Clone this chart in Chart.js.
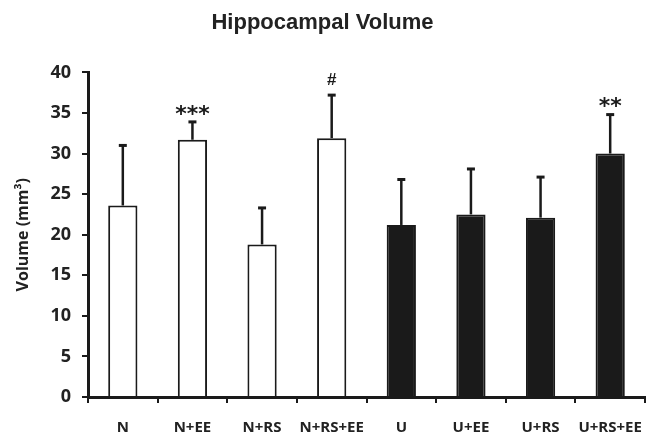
<!DOCTYPE html>
<html>
<head>
<meta charset="utf-8">
<script src="https://cdn.jsdelivr.net/npm/chart.js@4.4.1/dist/chart.umd.min.js"></script>
<style>
  html, body { margin: 0; padding: 0; background: #fff; }
  #wrap { width: 660px; height: 439px; }
</style>
</head>
<body>
<div id="wrap"><canvas id="canvas"></canvas></div>
<script>
// data
const groups = ["N", "N+EE", "N+RS", "N+RS+EE", "U", "U+EE", "U+RS", "U+RS+EE"];
const volume = [23.6, 31.7, 18.8, 31.9, 21.2, 22.5, 22.1, 30.0];
const errUp = [7.4, 2.2, 4.5, 5.3, 5.6, 5.6, 5.0, 4.8];
const marks = ["", "***", "", "#", "", "", "", "**"];
const fills = ["#ffffff", "#ffffff", "#ffffff", "#ffffff", "#1a1a1a", "#1a1a1a", "#1a1a1a", "#1a1a1a"];
const yTicks = [0, 5, 10, 15, 20, 25, 30, 35, 40];

const ink = "#1a1a1a";

// error bars (upper only) and significance marks
const errorBars = {
  id: "errorBars",
  afterDatasetsDraw(chart) {
    const ctx = chart.ctx;
    const meta = chart.getDatasetMeta(0);
    const y = chart.scales.y;
    ctx.save();
    ctx.strokeStyle = ink;
    ctx.fillStyle = ink;
    meta.data.forEach((bar, i) => {
      const top = y.getPixelForValue(volume[i]);
      const hi = y.getPixelForValue(volume[i] + errUp[i]);
      ctx.lineWidth = 2.5;
      ctx.beginPath();
      ctx.moveTo(bar.x, top);
      ctx.lineTo(bar.x, hi);
      ctx.stroke();
      ctx.lineWidth = 3;
      ctx.beginPath();
      ctx.moveTo(bar.x - 4, hi);
      ctx.lineTo(bar.x + 4, hi);
      ctx.stroke();
      if (marks[i]) {
        const star = marks[i] !== "#";
        ctx.font = star ? "bold 22px 'DejaVu Sans'" : "bold 17px 'Liberation Sans'";
        ctx.textAlign = "center";
        ctx.textBaseline = "middle";
        ctx.fillText(marks[i], bar.x, hi - (star ? 7 : 15));
      }
    });
    ctx.restore();
  }
};

new Chart(document.getElementById("canvas"), {
  type: "bar",
  data: {
    labels: groups,
    datasets: [{
      data: volume,
      backgroundColor: fills,
      borderColor: ink,
      borderWidth: 2,
      borderSkipped: "bottom",
      categoryPercentage: 1,
      barPercentage: 0.42
    }]
  },
  options: {
    responsive: true,
    maintainAspectRatio: false,
    animation: false,
    layout: { padding: { left: 0, right: 15, top: 0, bottom: 0 } },
    plugins: {
      legend: { display: false },
      tooltip: { enabled: false },
      title: {
        display: true,
        text: "Hippocampal Volume",
        color: "#222",
        font: { family: "'Liberation Sans'", weight: "bold", size: 22 },
        padding: { top: 10, bottom: 36 }
      }
    },
    scales: {
      x: {
        border: { display: true, color: ink, width: 3 },
        grid: { display: true, offset: true, drawOnChartArea: false, drawTicks: true, tickLength: 6, color: ink, lineWidth: 2 },
        ticks: { color: "#222", padding: 16, autoSkip: false, maxRotation: 0, font: { family: "'Open Sans'", weight: "bold", size: 15 } },
        afterFit(scale) { scale.height = 42; }
      },
      y: {
        min: 0,
        max: 40,
        afterBuildTicks(scale) { scale.ticks = yTicks.map(v => ({ value: v })); },
        border: { display: true, color: ink, width: 3 },
        grid: { display: true, drawOnChartArea: false, drawTicks: true, tickLength: 6, color: ink, lineWidth: 2 },
        ticks: { color: "#222", padding: 11, font: { family: "'Open Sans'", weight: "bold", size: 18 } },
        title: {
          display: true,
          text: "Volume (mm³)",
          color: "#222",
          font: { family: "'Open Sans'", weight: "bold", size: 16 },
          padding: { top: 14, bottom: 0 }
        },
        afterFit(scale) { scale.width = 88; }
      }
    }
  },
  plugins: [errorBars]
});
</script>
</body>
</html>
